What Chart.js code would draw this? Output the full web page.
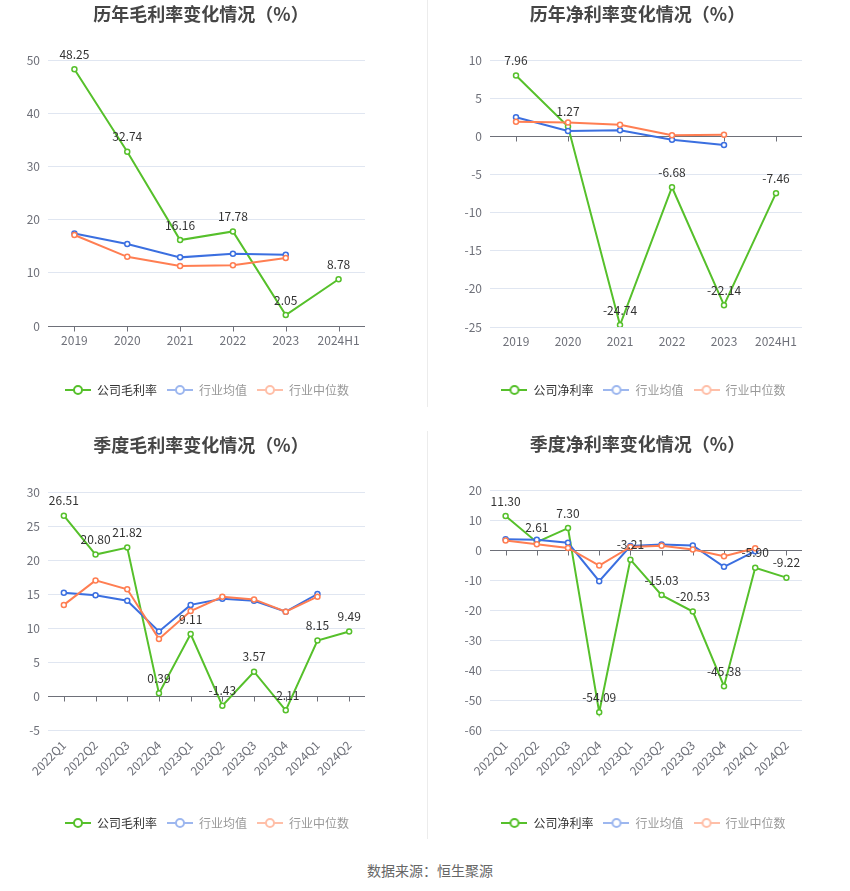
<!DOCTYPE html>
<html><head><meta charset="utf-8">
<script src="https://cdn.jsdelivr.net/npm/chart.js@4.4.1/dist/chart.umd.min.js"></script>
<style>
body{margin:0;background:#fff;width:850px;height:891px;position:relative;overflow:hidden;font-family:"Noto Sans CJK SC",sans-serif;}
.box{position:absolute;}
.sep{position:absolute;left:427px;width:1px;background:#ececec;}
#src{position:absolute;left:0;width:860px;top:860px;line-height:20px;text-align:center;font-size:14px;color:#666;}
</style></head><body>
<div class="box" style="left:0;top:0;width:402px;height:410px"><canvas id="c1"></canvas></div>
<div class="box" style="left:425px;top:0;width:425px;height:410px"><canvas id="c2"></canvas></div>
<div class="box" style="left:0;top:430px;width:402px;height:420px"><canvas id="c3"></canvas></div>
<div class="box" style="left:425px;top:430px;width:425px;height:420px"><canvas id="c4"></canvas></div>
<div class="sep" style="top:0;height:407px"></div>
<div class="sep" style="top:431px;height:408px"></div>
<div id="src">数据来源：恒生聚源</div>
<script>
// ---- data ----
const yearCats = ['2019','2020','2021','2022','2023','2024H1'];
const quarterCats = ['2022Q1','2022Q2','2022Q3','2022Q4','2023Q1','2023Q2','2023Q3','2023Q4','2024Q1','2024Q2'];

const yearGross = [48.25, 32.74, 16.16, 17.78, 2.05, 8.78];
const yearGrossMean = [17.4, 15.4, 12.9, 13.6, 13.4, null];
const yearGrossMedian = [17.1, 13.0, 11.3, 11.4, 12.8, null];

const yearNet = [7.96, 1.27, -24.74, -6.68, -22.14, -7.46];
const yearNetMean = [2.5, 0.7, 0.8, -0.45, -1.15, null];
const yearNetMedian = [1.9, 1.8, 1.5, 0.15, 0.2, null];

const qGross = [26.51, 20.80, 21.82, 0.39, 9.11, -1.43, 3.57, -2.11, 8.15, 9.49];
const qGrossMean = [15.2, 14.8, 14.0, 9.5, 13.4, 14.3, 14.0, 12.4, 15.0, null];
const qGrossMedian = [13.4, 17.0, 15.7, 8.4, 12.5, 14.6, 14.2, 12.4, 14.6, null];

const qNet = [11.30, 2.61, 7.30, -54.09, -3.21, -15.03, -20.53, -45.38, -5.90, -9.22];
const qNetMean = [3.6, 3.4, 2.4, -10.4, 1.3, 1.8, 1.5, -5.6, -0.4, null];
const qNetMedian = [3.2, 1.9, 0.7, -5.2, 1.0, 1.4, 0.2, -2.1, 0.6, null];

const yTicks1 = {min: 0, max: 50, step: 10};
const yTicks2 = {min: -25, max: 10, step: 5};
const yTicks3 = {min: -5, max: 30, step: 5};
const yTicks4 = {min: -60, max: 20, step: 10};

// ---- style ----
const FONT = '"Noto Sans CJK SC", sans-serif';
Chart.defaults.font.family = FONT;
const GREEN = '#56C02B', BLUE = '#3B6FE0', ORANGE = '#FF7E52';
const AXIS = '#6E7079', GRID = '#E0E6F1';

function icon(color){
  const c = document.createElement('canvas'); c.width = 26; c.height = 12;
  const g = c.getContext('2d');
  g.strokeStyle = color; g.lineWidth = 2;
  g.beginPath(); g.moveTo(0, 6); g.lineTo(26, 6); g.stroke();
  g.beginPath(); g.arc(13, 6, 4, 0, Math.PI*2); g.fillStyle = '#fff'; g.fill(); g.stroke();
  return c;
}

const valueLabels = {
  id: 'valueLabels',
  afterDatasetsDraw(chart){
    const meta = chart.getDatasetMeta(0), ds = chart.data.datasets[0], ctx = chart.ctx;
    ctx.save();
    ctx.font = '12px ' + FONT; ctx.fillStyle = '#333';
    ctx.textAlign = 'center'; ctx.textBaseline = 'middle';
    meta.data.forEach((p, i) => {
      const v = ds.data[i]; if (v == null) return;
      ctx.fillText(v.toFixed(2), p.x, p.y - 15);
    });
    ctx.restore();
  }
};
const zeroTicks = {
  id: 'zeroTicks',
  beforeDatasetsDraw(chart){
    const xs = chart.scales.x, ys = chart.scales.y, ctx = chart.ctx;
    const y0 = Math.round(ys.getPixelForValue(0)) + 0.5;
    ctx.save(); ctx.strokeStyle = AXIS; ctx.lineWidth = 1; ctx.beginPath();
    for (let i = 0; i < xs.ticks.length; i++){
      const px = Math.round(xs.getPixelForTick(i)) + 0.5;
      ctx.moveTo(px, y0); ctx.lineTo(px, y0 + 5);
    }
    ctx.stroke(); ctx.restore();
  }
};
const legendShift = {
  id: 'legendShift',
  afterLayout(chart, args, opts){
    if (chart.legend){ chart.legend.left += opts.dx || 0; chart.legend.right += opts.dx || 0; }
  }
};

function make(id, cats, series, names, yt, o){
  const colors = [GREEN, BLUE, ORANGE];
  const legendIcons = [icon(GREEN), icon('#9DB7EF'), icon('#FFBFA8')];
  const legendText = ['#333', '#999', '#999'];
  new Chart(document.getElementById(id), {
    type: 'line',
    data: {
      labels: cats,
      datasets: series.map((d, i) => ({
        label: names[i], data: d, borderColor: colors[i], backgroundColor: '#fff',
        pointBackgroundColor: '#fff', pointBorderColor: colors[i],
        pointRadius: 2.5, pointBorderWidth: 1.5, borderWidth: 2, tension: 0,
        order: 2 - i, fill: false
      }))
    },
    options: {
      responsive: true, maintainAspectRatio: false, animation: false, events: [],
      layout: {padding: {left: 0, right: 0, top: 0, bottom: o.pb}},
      plugins: {
        tooltip: {enabled: false},
        title: {display: true, text: o.title, color: '#464646',
          font: {size: 18, weight: 'bold', family: FONT, lineHeight: 1.2},
          padding: {top: o.tt, bottom: o.tb}},
        legend: {position: 'bottom',
          labels: {usePointStyle: true, pointStyleWidth: 26, padding: 10,
            font: {size: 12, family: FONT},
            generateLabels: () => names.map((n, i) => ({
              text: n, pointStyle: legendIcons[i], fillStyle: colors[i], strokeStyle: colors[i],
              lineWidth: 0, hidden: false, datasetIndex: i, fontColor: legendText[i]
            }))
          }},
        legendShift: {dx: 6}
      },
      scales: {
        x: {type: 'category', offset: true,
          grid: {display: false, drawTicks: false}, border: {display: false},
          ticks: {color: AXIS, font: {size: 12}, padding: o.xp, autoSkip: false,
            minRotation: o.rot, maxRotation: o.rot},
          afterFit(s){ s.height = o.xh; }},
        y: {min: yt.min, max: yt.max,
          ticks: {stepSize: yt.step, color: AXIS, font: {size: 12}, padding: 8},
          grid: {color: c => c.tick && c.tick.value === 0 ? AXIS : GRID, drawTicks: false, lineWidth: 1},
          border: {display: false},
          afterFit(s){ s.width = o.lw; }},
        yR: {position: 'right', display: true, grid: {display: false},
          ticks: {display: false}, border: {display: false},
          afterFit(s){ s.width = o.rw; }}
      }
    },
    plugins: [valueLabels, zeroTicks, legendShift]
  });
}

make('c1', yearCats, [yearGross, yearGrossMean, yearGrossMedian], ['公司毛利率','行业均值','行业中位数'], yTicks1,
  {title: '历年毛利率变化情况（%）', tt: 3.2, tb: 35.2, pb: 4, xh: 48, xp: 7, rot: 0, lw: 48, rw: 37});
make('c2', yearCats, [yearNet, yearNetMean, yearNetMedian], ['公司净利率','行业均值','行业中位数'], yTicks2,
  {title: '历年净利率变化情况（%）', tt: 3.2, tb: 35.2, pb: 4, xh: 47, xp: 7, rot: 0, lw: 65, rw: 48});
make('c3', quarterCats, [qGross, qGrossMean, qGrossMedian], ['公司毛利率','行业均值','行业中位数'], yTicks3,
  {title: '季度毛利率变化情况（%）', tt: 4.2, tb: 36.2, pb: 11, xh: 77, xp: 8, rot: 45, lw: 48, rw: 37});
make('c4', quarterCats, [qNet, qNetMean, qNetMedian], ['公司净利率','行业均值','行业中位数'], yTicks4,
  {title: '季度净利率变化情况（%）', tt: 3.2, tb: 35.2, pb: 11, xh: 77, xp: 8, rot: 45, lw: 65, rw: 48});
</script>
</body></html>
